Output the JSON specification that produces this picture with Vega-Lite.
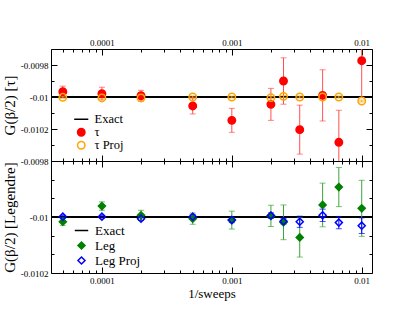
{
  "$schema": "https://vega.github.io/schema/vega-lite/v6.json",
  "background": "white",
  "padding": {"left": 1, "top": 38, "right": 5, "bottom": 5},
  "bounds": "flush",
  "datasets": {
    "tau": [
      {"series": "τ", "x": 0.00005, "y": -0.009967, "lo": -0.010002, "hi": -0.009932},
      {"series": "τ", "x": 0.0001, "y": -0.009979, "lo": -0.010019, "hi": -0.009939},
      {"series": "τ", "x": 0.0002, "y": -0.009992, "lo": -0.010026, "hi": -0.009958},
      {"series": "τ", "x": 0.0005, "y": -0.010056, "lo": -0.010106, "hi": -0.010006},
      {"series": "τ", "x": 0.001, "y": -0.010146, "lo": -0.010221, "hi": -0.010071},
      {"series": "τ", "x": 0.002, "y": -0.010046, "lo": -0.010146, "hi": -0.009946},
      {"series": "τ", "x": 0.0025, "y": -0.0099, "lo": -0.010045, "hi": -0.009755},
      {"series": "τ", "x": 0.003333, "y": -0.010204, "lo": -0.010357, "hi": -0.010051},
      {"series": "τ", "x": 0.005, "y": -0.00999, "lo": -0.01015, "hi": -0.00983},
      {"series": "τ", "x": 0.006667, "y": -0.010283, "lo": -0.010483, "hi": -0.010083},
      {"series": "τ", "x": 0.01, "y": -0.009773, "lo": -0.010004, "hi": -0.009542},
      {"series": "τ Proj", "x": 0.00005, "y": -0.010002, "lo": -0.010008, "hi": -0.009996},
      {"series": "τ Proj", "x": 0.0001, "y": -0.010006, "lo": -0.010012, "hi": -0.01},
      {"series": "τ Proj", "x": 0.0002, "y": -0.010006, "lo": -0.010016, "hi": -0.009996},
      {"series": "τ Proj", "x": 0.0005, "y": -0.01, "lo": -0.010006, "hi": -0.009994},
      {"series": "τ Proj", "x": 0.001, "y": -0.01, "lo": -0.010006, "hi": -0.009994},
      {"series": "τ Proj", "x": 0.002, "y": -0.010004, "lo": -0.01001, "hi": -0.009998},
      {"series": "τ Proj", "x": 0.0025, "y": -0.009996, "lo": -0.010002, "hi": -0.00999},
      {"series": "τ Proj", "x": 0.003333, "y": -0.01, "lo": -0.010006, "hi": -0.009994},
      {"series": "τ Proj", "x": 0.005, "y": -0.01, "lo": -0.010006, "hi": -0.009994},
      {"series": "τ Proj", "x": 0.006667, "y": -0.01, "lo": -0.010006, "hi": -0.009994},
      {"series": "τ Proj", "x": 0.01, "y": -0.010025, "lo": -0.010031, "hi": -0.010019}
    ],
    "leg": [
      {"series": "Leg", "x": 0.00005, "y": -0.010017, "lo": -0.01003, "hi": -0.010004},
      {"series": "Leg", "x": 0.0001, "y": -0.009961, "lo": -0.009976, "hi": -0.009946},
      {"series": "Leg", "x": 0.0002, "y": -0.009994, "lo": -0.010012, "hi": -0.009976},
      {"series": "Leg", "x": 0.0005, "y": -0.010006, "lo": -0.010026, "hi": -0.009986},
      {"series": "Leg", "x": 0.001, "y": -0.010011, "lo": -0.010043, "hi": -0.009979},
      {"series": "Leg", "x": 0.002, "y": -0.009996, "lo": -0.010034, "hi": -0.009958},
      {"series": "Leg", "x": 0.0025, "y": -0.010019, "lo": -0.010081, "hi": -0.009957},
      {"series": "Leg", "x": 0.003333, "y": -0.010073, "lo": -0.010143, "hi": -0.010003},
      {"series": "Leg", "x": 0.005, "y": -0.009957, "lo": -0.010035, "hi": -0.009879},
      {"series": "Leg", "x": 0.006667, "y": -0.009893, "lo": -0.009963, "hi": -0.009823},
      {"series": "Leg", "x": 0.01, "y": -0.009969, "lo": -0.010069, "hi": -0.009869},
      {"series": "Leg Proj", "x": 0.00005, "y": -0.009999, "lo": -0.010004, "hi": -0.009994},
      {"series": "Leg Proj", "x": 0.0001, "y": -0.009999, "lo": -0.010004, "hi": -0.009994},
      {"series": "Leg Proj", "x": 0.0002, "y": -0.010006, "lo": -0.010012, "hi": -0.01},
      {"series": "Leg Proj", "x": 0.0005, "y": -0.009999, "lo": -0.010006, "hi": -0.009992},
      {"series": "Leg Proj", "x": 0.001, "y": -0.010011, "lo": -0.01002, "hi": -0.010002},
      {"series": "Leg Proj", "x": 0.002, "y": -0.009995, "lo": -0.010005, "hi": -0.009985},
      {"series": "Leg Proj", "x": 0.0025, "y": -0.010015, "lo": -0.010025, "hi": -0.010005},
      {"series": "Leg Proj", "x": 0.003333, "y": -0.010017, "lo": -0.010037, "hi": -0.009997},
      {"series": "Leg Proj", "x": 0.005, "y": -0.009994, "lo": -0.010016, "hi": -0.009972},
      {"series": "Leg Proj", "x": 0.006667, "y": -0.01002, "lo": -0.010042, "hi": -0.009998},
      {"series": "Leg Proj", "x": 0.01, "y": -0.010031, "lo": -0.010059, "hi": -0.010003}
    ]
  },
  "config": {
    "view": {"stroke": "black", "strokeWidth": 1},
    "axis": {
      "labelFont": "Liberation Serif", "labelFontSize": 9, "labelColor": "black",
      "titleFont": "Liberation Serif", "titleFontWeight": "normal", "titleColor": "black",
      "tickColor": "black", "domain": false, "grid": false
    },
    "legend": {"labelFont": "Liberation Serif", "labelFontSize": 13, "labelColor": "black"}
  },
  "spacing": 0,
  "resolve": {
    "scale": {"x": "independent", "y": "independent", "shape": "independent", "fill": "independent", "stroke": "independent", "color": "independent"},
    "legend": {"shape": "independent", "fill": "independent", "stroke": "independent", "color": "independent"}
  },
  "vconcat": [
    {
      "width": 321, "height": 112,
      "data": {"name": "tau"},
      "resolve": {"axis": {"x": "independent", "y": "independent"}},
      "layer": [
        {
          "mark": {"type": "rule", "color": "black", "strokeWidth": 1.5},
          "encoding": {"y": {"datum": -0.01, "type": "quantitative", "scale": {"domain": [-0.0104, -0.0097], "nice": false, "zero": false}, "axis": null}}
        },
        {
          "mark": {"type": "rule", "clip": true, "strokeWidth": 1},
          "encoding": {
            "x": {"field": "x", "type": "quantitative", "scale": {"type": "log", "domain": [4.055e-5, 0.012], "nice": false}, "axis": {"orient": "bottom", "values": [0.0001, 0.001, 0.01], "labels": false, "tickSize": -6, "title": null}},
            "y": {"field": "lo", "type": "quantitative", "scale": {"domain": [-0.0104, -0.0097], "nice": false, "zero": false}, "axis": {"orient": "left", "values": [-0.0098, -0.01, -0.0102], "tickSize": -6, "labelPadding": 9, "labelExpr": "'-' + format(-datum.value, '~g')", "title": "G(β/2) [τ]", "titleFontSize": 15, "titlePadding": 3}},
            "y2": {"field": "hi"},
            "color": {"field": "series", "type": "nominal", "scale": {"domain": ["τ", "τ Proj"], "range": ["#ff5050", "orange"]}, "legend": null}
          }
        },
        {
          "mark": {"type": "tick", "orient": "horizontal", "clip": true, "size": 6, "thickness": 1},
          "encoding": {
            "x": {"field": "x", "type": "quantitative", "axis": {"orient": "bottom", "values": [0.00005, 0.00006, 0.00007, 0.00008, 0.00009, 0.0002, 0.0003, 0.0004, 0.0005, 0.0006, 0.0007, 0.0008, 0.0009, 0.002, 0.003, 0.004, 0.005, 0.006, 0.007, 0.008, 0.009], "labels": false, "tickSize": -3, "title": null}},
            "y": {"field": "lo", "type": "quantitative", "axis": {"orient": "left", "values": [-0.0097, -0.0099, -0.0101, -0.0103], "labels": false, "tickSize": -3, "title": null}},
            "color": {"field": "series", "type": "nominal", "legend": null}
          }
        },
        {
          "mark": {"type": "tick", "orient": "horizontal", "clip": true, "size": 6, "thickness": 1},
          "encoding": {
            "x": {"field": "x", "type": "quantitative", "axis": {"orient": "top", "values": [0.0001, 0.001, 0.01], "tickSize": -6, "labelPadding": 7.5, "labelExpr": "format(datum.value, '~g')", "title": null}},
            "y": {"field": "hi", "type": "quantitative", "axis": {"orient": "right", "values": [-0.0098, -0.01, -0.0102], "labels": false, "tickSize": -6, "title": null}},
            "color": {"field": "series", "type": "nominal", "legend": null}
          }
        },
        {
          "mark": {"type": "point", "size": 55, "strokeWidth": 1.5, "opacity": 1},
          "encoding": {
            "x": {"field": "x", "type": "quantitative", "axis": {"orient": "top", "values": [0.00005, 0.00006, 0.00007, 0.00008, 0.00009, 0.0002, 0.0003, 0.0004, 0.0005, 0.0006, 0.0007, 0.0008, 0.0009, 0.002, 0.003, 0.004, 0.005, 0.006, 0.007, 0.008, 0.009], "labels": false, "tickSize": -3, "title": null}},
            "y": {"field": "y", "type": "quantitative", "axis": {"orient": "right", "values": [-0.0097, -0.0099, -0.0101, -0.0103], "labels": false, "tickSize": -3, "title": null}},
            "shape": {"field": "series", "type": "nominal", "scale": {"domain": ["Exact", "τ", "τ Proj"], "range": ["M-1.9,0L1.9,0", "circle", "circle"]},
              "legend": {"title": null, "orient": "none", "legendX": 24, "legendY": 64, "rowPadding": -2, "labelOffset": 7, "labelFontSize": 12.5, "symbolSize": 55, "symbolStrokeWidth": 1.5}},
            "stroke": {"field": "series", "type": "nominal", "scale": {"domain": ["Exact", "τ", "τ Proj"], "range": ["black", "red", "orange"]}},
            "fill": {"field": "series", "type": "nominal", "scale": {"domain": ["Exact", "τ", "τ Proj"], "range": ["black", "red", "transparent"]}}
          }
        }
      ]
    },
    {
      "width": 321, "height": 112,
      "data": {"name": "leg"},
      "resolve": {"axis": {"x": "independent", "y": "independent"}},
      "layer": [
        {
          "mark": {"type": "rule", "color": "black", "strokeWidth": 1.5},
          "encoding": {"y": {"datum": -0.01, "type": "quantitative", "scale": {"domain": [-0.0102, -0.0098], "nice": false, "zero": false}, "axis": null}}
        },
        {
          "mark": {"type": "rule", "clip": true, "strokeWidth": 1},
          "encoding": {
            "x": {"field": "x", "type": "quantitative", "scale": {"type": "log", "domain": [4.055e-5, 0.012], "nice": false}, "axis": {"orient": "bottom", "values": [0.0001, 0.001, 0.01], "tickSize": -6, "labelPadding": 9, "labelExpr": "format(datum.value, '~g')", "title": "1/sweeps", "titleFontSize": 13, "titlePadding": 2}},
            "y": {"field": "lo", "type": "quantitative", "scale": {"domain": [-0.0102, -0.0098], "nice": false, "zero": false}, "axis": {"orient": "left", "values": [-0.0098, -0.01, -0.0102], "tickSize": -6, "labelPadding": 9, "labelExpr": "'-' + format(-datum.value, '~g')", "title": "G(β/2) [Legendre]", "titleFontSize": 15, "titlePadding": 3}},
            "y2": {"field": "hi"},
            "color": {"field": "series", "type": "nominal", "scale": {"domain": ["Leg", "Leg Proj"], "range": ["#3aa63a", "blue"]}, "legend": null}
          }
        },
        {
          "mark": {"type": "tick", "orient": "horizontal", "clip": true, "size": 6, "thickness": 1},
          "encoding": {
            "x": {"field": "x", "type": "quantitative", "axis": {"orient": "bottom", "values": [0.00005, 0.00006, 0.00007, 0.00008, 0.00009, 0.0002, 0.0003, 0.0004, 0.0005, 0.0006, 0.0007, 0.0008, 0.0009, 0.002, 0.003, 0.004, 0.005, 0.006, 0.007, 0.008, 0.009], "labels": false, "tickSize": -3, "title": null}},
            "y": {"field": "lo", "type": "quantitative", "axis": {"orient": "left", "values": [-0.0098667, -0.0099333, -0.0100667, -0.0101333], "labels": false, "tickSize": -3, "title": null}},
            "color": {"field": "series", "type": "nominal", "legend": null}
          }
        },
        {
          "mark": {"type": "tick", "orient": "horizontal", "clip": true, "size": 6, "thickness": 1},
          "encoding": {
            "x": {"field": "x", "type": "quantitative", "axis": {"orient": "top", "values": [0.0001, 0.001, 0.01], "labels": false, "tickSize": -6, "title": null}},
            "y": {"field": "hi", "type": "quantitative", "axis": {"orient": "right", "values": [-0.0098, -0.01, -0.0102], "labels": false, "tickSize": -6, "title": null}},
            "color": {"field": "series", "type": "nominal", "legend": null}
          }
        },
        {
          "mark": {"type": "point", "size": 50, "strokeWidth": 1.5, "opacity": 1},
          "encoding": {
            "x": {"field": "x", "type": "quantitative", "axis": {"orient": "top", "values": [0.00005, 0.00006, 0.00007, 0.00008, 0.00009, 0.0002, 0.0003, 0.0004, 0.0005, 0.0006, 0.0007, 0.0008, 0.0009, 0.002, 0.003, 0.004, 0.005, 0.006, 0.007, 0.008, 0.009], "labels": false, "tickSize": -3, "title": null}},
            "y": {"field": "y", "type": "quantitative", "axis": {"orient": "right", "values": [-0.0098667, -0.0099333, -0.0100667, -0.0101333], "labels": false, "tickSize": -3, "title": null}},
            "shape": {"field": "series", "type": "nominal", "scale": {"domain": ["Exact", "Leg", "Leg Proj"], "range": ["M-1.9,0L1.9,0", "diamond", "diamond"]},
              "legend": {"title": null, "orient": "none", "legendX": 24, "legendY": 63, "rowPadding": 0, "labelOffset": 7, "labelFontSize": 13, "symbolSize": 50, "symbolStrokeWidth": 1.5}},
            "stroke": {"field": "series", "type": "nominal", "scale": {"domain": ["Exact", "Leg", "Leg Proj"], "range": ["black", "green", "blue"]}},
            "fill": {"field": "series", "type": "nominal", "scale": {"domain": ["Exact", "Leg", "Leg Proj"], "range": ["black", "green", "transparent"]}}
          }
        }
      ]
    }
  ]
}
